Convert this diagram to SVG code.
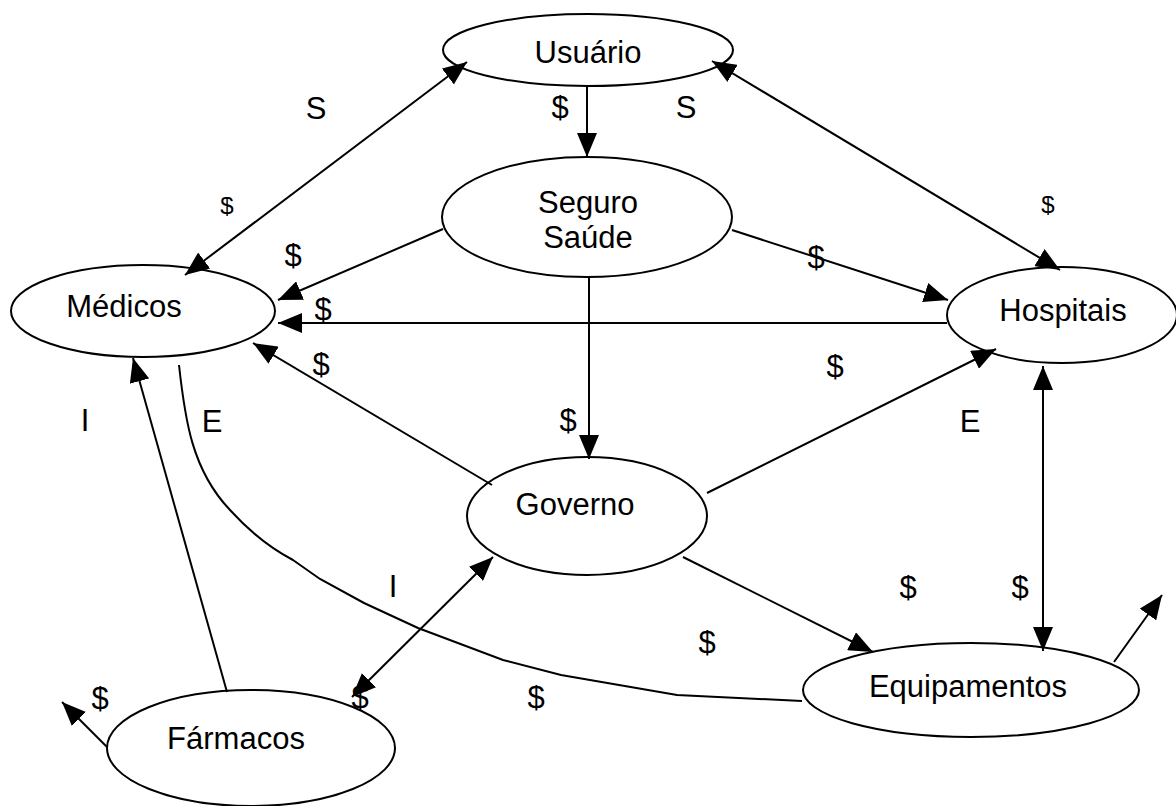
<svg xmlns="http://www.w3.org/2000/svg" width="1176" height="806" viewBox="0 0 1176 806">
<style>
.node{fill:#fff;stroke:#000;stroke-width:2}
.t{font-family:"Liberation Sans",Arial,sans-serif;font-size:31px;fill:#000;text-anchor:middle}
.sm{font-size:24px}
.c{stroke:#000;stroke-width:2;fill:none}
.a{marker-end:url(#ah)}
.d{marker-start:url(#ah);marker-end:url(#ah)}
</style>
<defs>
<marker id="ah" viewBox="0 0 24 20" refX="24" refY="10" markerWidth="24" markerHeight="20" markerUnits="userSpaceOnUse" orient="auto-start-reverse">
<path d="M0,0 L24,10 L0,20 z" fill="#000"/>
</marker>
</defs>
<rect width="1176" height="806" fill="#fff"/>
<g id="usuario"><ellipse class="node" cx="588" cy="50" rx="145" ry="36"/><text class="t" x="588" y="63">Usuário</text></g>
<g id="seguro"><ellipse class="node" cx="587" cy="217" rx="145" ry="60"/><text class="t" x="588" y="213">Seguro</text><text class="t" x="588" y="248">Saúde</text></g>
<g id="medicos"><ellipse class="node" cx="143" cy="311" rx="132" ry="46"/><text class="t" x="124" y="317">Médicos</text></g>
<g id="hospitais"><ellipse class="node" cx="1062" cy="315" rx="115" ry="48"/><text class="t" x="1063" y="321">Hospitais</text></g>
<g id="governo"><ellipse class="node" cx="587" cy="516" rx="120" ry="59"/><text class="t" x="575" y="515">Governo</text></g>
<g id="equipamentos"><ellipse class="node" cx="971" cy="690" rx="168" ry="47"/><text class="t" x="968" y="697">Equipamentos</text></g>
<g id="farmacos"><ellipse class="node" cx="251" cy="748" rx="144" ry="58"/><text class="t" x="236" y="749">Fármacos</text></g>
<g id="connectors">
<line class="c d" x1="185" y1="275" x2="467" y2="62"/>
<line class="c a" x1="587" y1="86" x2="587" y2="157"/>
<line class="c d" x1="712" y1="61" x2="1060" y2="270"/>
<line class="c a" x1="443" y1="229" x2="278" y2="300"/>
<line class="c a" x1="732" y1="230" x2="948" y2="300"/>
<line class="c a" x1="947" y1="323" x2="278" y2="323"/>
<line class="c a" x1="492" y1="485" x2="253" y2="343"/>
<line class="c a" x1="589" y1="277" x2="589" y2="459"/>
<line class="c a" x1="707" y1="493" x2="996" y2="349"/>
<line class="c a" x1="683" y1="557" x2="873" y2="652"/>
<line class="c d" x1="352" y1="697" x2="493" y2="557"/>
<line class="c a" x1="227" y1="692" x2="133" y2="358"/>
<path class="c" d="M179,365 C185,420 192,470 230,510 C250,532 270,548 293,560 L320,579 L364,603 L418,628 L503,660 L561,675 L677,695 L802,701"/>
<line class="c a" x1="107" y1="747" x2="62" y2="702"/>
<line class="c a" x1="1114" y1="662" x2="1162" y2="595"/>
<line class="c d" x1="1043" y1="366" x2="1043" y2="651"/>
</g>
<g id="labels">
<text class="t" x="316" y="119">S</text>
<text class="t" x="560" y="118">$</text>
<text class="t" x="686" y="118">S</text>
<text class="t sm" x="227" y="214">$</text>
<text class="t sm" x="1048" y="213">$</text>
<text class="t" x="293" y="266">$</text>
<text class="t" x="323" y="320">$</text>
<text class="t" x="321" y="375">$</text>
<text class="t" x="816" y="268">$</text>
<text class="t" x="835" y="377">$</text>
<text class="t" x="85" y="431">I</text>
<text class="t" x="212" y="432">E</text>
<text class="t" x="568" y="431">$</text>
<text class="t" x="970" y="432">E</text>
<text class="t" x="393" y="597">I</text>
<text class="t" x="908" y="598">$</text>
<text class="t" x="1020" y="598">$</text>
<text class="t" x="707" y="653">$</text>
<text class="t" x="536" y="708">$</text>
<text class="t" x="360" y="708">$</text>
<text class="t" x="100" y="709">$</text>
</g>
</svg>
